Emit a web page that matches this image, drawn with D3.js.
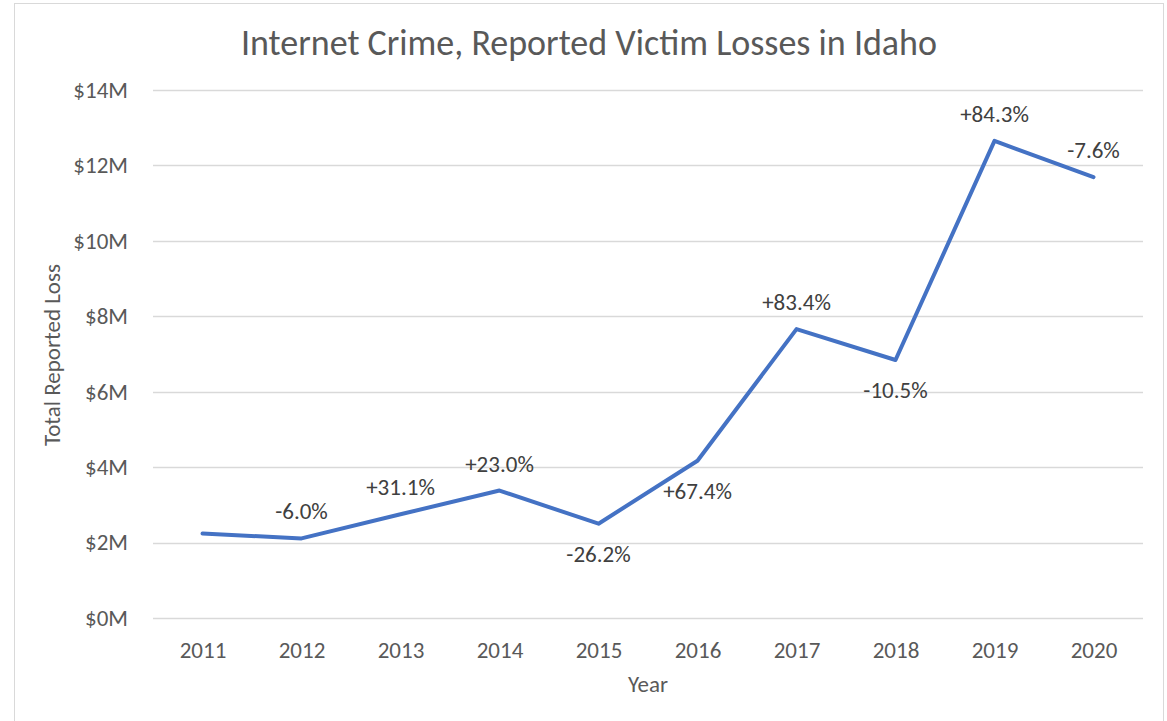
<!DOCTYPE html>
<html>
<head>
<meta charset="utf-8">
<script src="https://cdn.jsdelivr.net/npm/d3@7"></script>
<style>
  body { margin: 0; background: #fff; }
  text { font-family: Carlito, Lato, "Open Sans", sans-serif; }
</style>
</head>
<body>
<svg id="chart" width="1167" height="721"></svg>
<script>

var years = [2011, 2012, 2013, 2014, 2015, 2016, 2017, 2018, 2019, 2020];

// reported losses, millions of dollars
var losses = [2.24, 2.11, 2.75, 3.38, 2.50, 4.17, 7.66, 6.84, 12.65, 11.69];

// year-over-year change labels, and which side of the line they sit on
var changeLabels = ["", "-6.0%", "+31.1%", "+23.0%", "-26.2%", "+67.4%", "+83.4%", "-10.5%", "+84.3%", "-7.6%"];
var labelSide = ["", "up", "up", "up", "down", "down", "up", "down", "up", "up"];

var yTicks = [0, 2, 4, 6, 8, 10, 12, 14];

var svg = d3.select("#chart");

var plot = {left: 153, right: 1143, top: 90, bottom: 618};

// chart frame
svg.append("rect")
    .attr("x", 14.5)
    .attr("y", 3.5)
    .attr("width", 1149)
    .attr("height", 730)
    .attr("fill", "#fff")
    .attr("stroke", "#d9d9d9")
    .attr("stroke-width", 1);

var x = d3.scalePoint()
    .domain(years)
    .range([plot.left, plot.right])
    .padding(0.5);

var y = d3.scaleLinear()
    .domain([0, 14])
    .range([plot.bottom, plot.top]);

// gridlines
svg.append("g")
    .selectAll("line")
    .data(yTicks)
    .enter().append("line")
    .attr("x1", plot.left)
    .attr("x2", plot.right)
    .attr("y1", function(d){ return Math.round(y(d)) + 0.5; })
    .attr("y2", function(d){ return Math.round(y(d)) + 0.5; })
    .attr("stroke", "#d9d9d9")
    .attr("stroke-width", 1.3);

// y axis labels
var yAxis = d3.axisLeft(y)
    .tickValues(yTicks)
    .tickSize(0)
    .tickPadding(25)
    .tickFormat(function(d){ return "$" + d + "M"; });

var yg = svg.append("g")
    .attr("transform", "translate(" + plot.left + ",0)")
    .call(yAxis);
yg.select(".domain").remove();
yg.selectAll("text")
    .attr("fill", "#595959")
    .style("font-size", "23px");

// x axis labels
var xAxis = d3.axisBottom(x)
    .tickSize(0)
    .tickPadding(24);

var xg = svg.append("g")
    .attr("transform", "translate(0," + plot.bottom + ")")
    .call(xAxis);
xg.select(".domain").remove();
xg.selectAll("text")
    .attr("fill", "#595959")
    .style("font-size", "23px");

// title
svg.append("text")
    .attr("x", 589)
    .attr("y", 55)
    .attr("text-anchor", "middle")
    .attr("fill", "#595959")
    .style("font-size", "36px")
    .text("Internet Crime, Reported Victim Losses in Idaho");

// axis titles
svg.append("text")
    .attr("transform", "translate(60,355) rotate(-90)")
    .attr("text-anchor", "middle")
    .attr("fill", "#595959")
    .style("font-size", "23px")
    .text("Total Reported Loss");

svg.append("text")
    .attr("x", 648)
    .attr("y", 692)
    .attr("text-anchor", "middle")
    .attr("fill", "#595959")
    .style("font-size", "23px")
    .text("Year");

// the line
var line = d3.line()
    .x(function(d, i){ return x(years[i]); })
    .y(function(d){ return y(d); });

svg.append("path")
    .datum(losses)
    .attr("d", line)
    .attr("fill", "none")
    .attr("stroke", "#4472c4")
    .attr("stroke-width", 4)
    .attr("stroke-linejoin", "round")
    .attr("stroke-linecap", "round");

// change labels
svg.append("g")
    .selectAll("text")
    .data(losses)
    .enter().append("text")
    .attr("x", function(d, i){ return x(years[i]); })
    .attr("y", function(d, i){
        return labelSide[i] == "up" ? y(d) - 27 : y(d) + 30;
    })
    .attr("dy", "0.35em")
    .attr("text-anchor", "middle")
    .attr("fill", "#404040")
    .style("font-size", "23px")
    .text(function(d, i){ return changeLabels[i]; });

</script>
</body>
</html>
